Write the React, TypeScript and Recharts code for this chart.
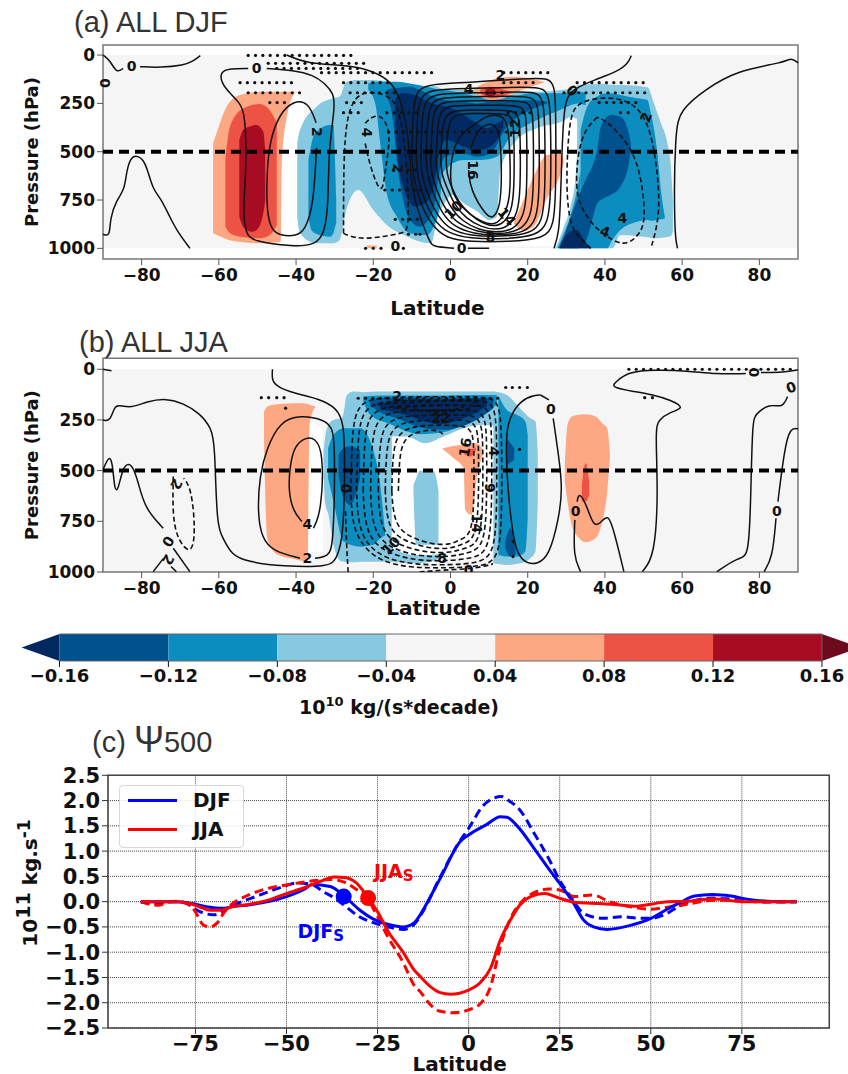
import { ComposedChart, Area, Line, Scatter, XAxis, YAxis, CartesianGrid, ReferenceArea, ReferenceLine, Legend } from 'recharts'

const NAVY = '#012a63'
const DARK = '#00528f'
const MEDIUM = '#0c8dc0'
const LIGHT = '#86c9e0'
const NEUTRAL = '#f5f5f5'
const WHITE = '#ffffff'
const SALMON = '#fda882'
const RED = '#ee5245'
const DARKRED = '#a70c22'
const FONT = '"DejaVu Sans", sans-serif'

type Row = number[]

// filled bands: [latitude, upper pressure, lower pressure]
const whiteA1: Row[] = [[-45, 190, 975], [-41, 190, 975], [-38, 250, 975]]
const whiteA2: Row[] = [[-6, 300, 988], [10, 300, 988], [29, 300, 988], [33, 350, 800]]
const salmonA1: Row[] = [[-61.5, 457, 922], [-60.6, 405, 930], [-58, 267, 953], [-54.5, 207, 967], [-49.4, 190, 974], [-44.2, 190, 967], [-43.9, 190, 960], [-43.7, 190, 570], [-42.4, 190, 320], [-40.3, 190, 195]]
const redA1: Row[] = [[-58.3, 540, 888], [-57.1, 370, 922], [-53.7, 276, 943], [-49.4, 253, 948], [-46.8, 285, 931], [-45, 350, 880]]
const darkredA1: Row[] = [[-54.7, 440, 836], [-53.7, 388, 888], [-51.5, 367, 914], [-50.2, 362, 905], [-48.5, 396, 820], [-48, 490, 750]]
const lightA1: Row[] = [[-39.7, 457, 836], [-39, 388, 922], [-34.7, 267, 974], [-30.4, 224, 974], [-28.7, 215, 957], [-27, 138, 802], [-23.9, 129, 698], [-20, 129, 802], [-16, 138, 888], [-12, 155, 931], [-8, 164, 965], [-5, 155, 974], [-3.5, 164, 854], [-1, 181, 750], [0.5, 181, 724], [3.4, 181, 767], [7, 190, 810], [10, 190, 853], [12, 190, 836], [12.9, 190, 595], [17.2, 190, 440], [22.4, 190, 379], [29.3, 180, 340], [31, 175, 320], [32.8, 170, 330]]
const lightA2: Row[] = [[27.2, 1000, 1000], [29.4, 888, 1000], [31.1, 784, 1000], [32.4, 629, 1000], [33, 400, 1000]]
const lightA3: Row[] = [[32.8, 155, 1000], [39.8, 150, 1000], [41.9, 155, 1000], [44, 155, 931], [51, 167, 943], [52.7, 250, 948], [54.5, 353, 945], [56.2, 457, 941], [57, 560, 938], [57.6, 750, 914]]
const mediumA1: Row[] = [[-36.8, 543, 836], [-36, 457, 905], [-35.1, 405, 922], [-31.2, 362, 940], [-30.3, 362, 922], [-30.1, 440, 905], [-29.6, 750, 870]]
const mediumA2: Row[] = [[-21.3, 147, 181], [-19.5, 138, 250], [-18.2, 138, 457], [-16.5, 138, 715], [-13.9, 138, 836], [-10.5, 147, 922], [-6.1, 164, 931], [-4.4, 172, 888], [-2.7, 181, 767], [-2.2, 181, 612], [3.4, 198, 543], [7.7, 216, 543], [12, 216, 526], [15.5, 216, 422], [20.7, 198, 353], [28.4, 198, 284], [33, 190, 250], [35, 195, 260]]
const mediumA3: Row[] = [[27.7, 1000, 1000], [29.4, 922, 1000], [31, 836, 1000], [32.4, 733, 1000], [33.7, 600, 1000]]
const mediumA4: Row[] = [[33.7, 388, 1000], [35.4, 267, 1000], [38, 215, 1000], [40.6, 198, 1000], [41.9, 198, 957], [44, 207, 905], [48.4, 224, 862], [51, 233, 853], [51.9, 302, 857], [53.6, 509, 853], [54.6, 715, 850], [55.5, 834, 845]]
const darkA1: Row[] = [[-16.5, 181, 216], [-14.8, 172, 353], [-13.9, 172, 543], [-12.6, 167, 715], [-10.5, 164, 853], [-7.9, 181, 888], [-4.4, 216, 802], [-3.1, 224, 629], [-1.4, 233, 526], [3.4, 241, 509], [6.8, 250, 526], [10.3, 241, 509], [14.6, 241, 371], [20.7, 233, 284], [25, 241, 250]]
const darkA2: Row[] = [[28.5, 991, 1000], [30.3, 888, 1000], [32.8, 750, 1000], [35.4, 629, 948], [36.7, 578, 853], [38, 491, 767], [38.9, 371, 750], [41.5, 310, 724], [44, 319, 681], [46.2, 405, 560], [46.7, 457, 491]]
const navyA1: Row[] = [[-14.3, 233, 353], [-13.5, 207, 560], [-12.2, 198, 681], [-9.2, 207, 784], [-6.6, 233, 767], [-4.4, 250, 681], [-3.1, 259, 526], [-1, 267, 440], [3.4, 310, 474], [6.8, 353, 491], [9.4, 379, 483], [12, 353, 440], [13.7, 336, 371]]
const navyA2: Row[] = [[28.1, 1000, 1000], [30.3, 922, 1000], [32.8, 905, 1000], [34.6, 957, 1000], [36.3, 1000, 1000]]
const salmonA2: Row[] = [[5.5, 185, 185], [7.7, 155, 216], [10.3, 133, 233], [12.9, 116, 229], [15.5, 112, 207], [20.7, 121, 164], [24.1, 138, 143]]
const redA2: Row[] = [[7.7, 178, 198], [10.3, 164, 224], [13.7, 178, 212], [15.9, 190, 195]]
const darkredA2: Row[] = [[9, 181, 205], [10.3, 172, 212], [11.6, 181, 205]]
const salmonA3: Row[] = [[16.3, 871, 871], [18.9, 750, 908], [21.5, 629, 888], [25, 517, 740], [28.4, 509, 620], [29.3, 543, 560]]
const salmonA4: Row[] = [[-21.7, 985, 1000], [-19.1, 985, 1000]]

const whiteB1: Row[] = [[-38, 220, 900], [-33, 300, 900]]
const whiteB2: Row[] = [[-15.5, 200, 880], [-12, 200, 920], [5, 150, 930], [11.5, 150, 900]]
const salmonB1: Row[] = [[-48.3, 210, 350], [-47.5, 185, 830], [-46.5, 178, 880], [-44.4, 172, 918], [-40, 168, 938], [-37, 170, 949], [-36.5, 175, 270], [-35, 184, 186]]
const salmonB2: Row[] = [[29.6, 472, 554], [30.3, 275, 652], [31.5, 233, 776], [33.3, 225, 833], [35, 222, 853], [37.6, 233, 833], [39.3, 266, 751], [40.6, 291, 603], [41.3, 422, 430]]
const redB1: Row[] = [[34, 570, 652], [35, 464, 652], [35.9, 554, 620]]
const lightB1: Row[] = [[-32.9, 406, 505], [-32.5, 340, 653], [-31.6, 274, 718], [-30.3, 250, 866], [-28.2, 242, 948], [-27.7, 217, 948], [-26.9, 130, 952], [-25.2, 110, 952], [-22.6, 113, 949], [-18.2, 110, 949], [-15.2, 110, 949]]
const lightB2: Row[] = [[-15.2, 110, 330], [-11.3, 110, 332], [-6.6, 110, 365], [-1.8, 110, 332], [3.4, 110, 291], [8.6, 110, 274], [11.5, 110, 280]]
const lightB3: Row[] = [[-15.2, 883, 949], [-9.6, 916, 957], [-5.3, 916, 949], [-1.8, 908, 924]]
const lightB4: Row[] = [[11.1, 110, 957], [14.6, 127, 965], [18, 192, 957], [20.7, 242, 932], [22, 258, 899], [22.6, 406, 652]]
const lightB5: Row[] = [[-9.6, 570, 604], [-8.9, 538, 866], [-7.9, 501, 866], [-4.4, 501, 866], [-3.5, 554, 866], [-3.1, 603, 866]]
const mediumB1: Row[] = [[-31.7, 390, 538], [-30.3, 324, 653], [-27.7, 291, 850], [-23.4, 291, 875], [-20, 398, 866], [-18.2, 570, 833], [-16.9, 817, 820]]
const mediumB2: Row[] = [[-22.6, 135, 160], [-20.8, 132, 225], [-15.6, 130, 271], [-7.9, 130, 320], [-1, 130, 307], [6, 127, 242], [12, 127, 176]]
const mediumB3: Row[] = [[12.4, 130, 916], [14.6, 201, 924], [17.2, 225, 924], [19.4, 258, 899], [20, 324, 735]]
const darkB1: Row[] = [[-29, 423, 521], [-27.7, 390, 636], [-26, 381, 669], [-23.4, 398, 538]]
const darkB2: Row[] = [[-20.8, 151, 179], [-18.2, 143, 212], [-13.9, 140, 242], [-7, 140, 291], [-1.8, 140, 299], [6, 140, 258], [11.1, 140, 192]]
const darkB3: Row[] = [[14.6, 340, 472], [16.5, 390, 447]]
const darkB4: Row[] = [[14.2, 850, 883], [15.5, 784, 924], [16.8, 866, 916]]
const navyB1: Row[] = [[-18.2, 172, 196], [-12.2, 151, 222], [-7, 151, 255], [-2.7, 151, 271], [3.4, 146, 242], [9.4, 146, 184]]
const salmonB3: Row[] = [[-2, 390, 395], [0.8, 377, 439], [3.4, 373, 488], [3.8, 373, 694], [5.5, 365, 718], [6.8, 365, 538], [8.6, 406, 409]]
const redB2: Row[] = [[3.4, 403, 414], [5.1, 393, 431], [6.6, 390, 398]]

const fillsA: [Row[], string][] = [
  [whiteA1, WHITE], [whiteA2, WHITE], [salmonA1, SALMON], [redA1, RED], [darkredA1, DARKRED],
  [lightA1, LIGHT], [lightA2, LIGHT], [lightA3, LIGHT], [mediumA1, MEDIUM], [mediumA2, MEDIUM], [mediumA3, MEDIUM], [mediumA4, MEDIUM],
  [darkA1, DARK], [darkA2, DARK], [navyA1, NAVY], [navyA2, NAVY],
  [salmonA2, SALMON], [redA2, RED], [darkredA2, DARKRED], [salmonA3, SALMON], [salmonA4, SALMON],
]
const fillsB: [Row[], string][] = [
  [whiteB1, WHITE], [whiteB2, WHITE], [salmonB1, SALMON], [salmonB2, SALMON], [redB1, RED],
  [lightB1, LIGHT], [lightB2, LIGHT], [lightB3, LIGHT], [lightB4, LIGHT], [lightB5, LIGHT],
  [mediumB1, MEDIUM], [mediumB2, MEDIUM], [mediumB3, MEDIUM], [darkB1, DARK], [darkB2, DARK], [darkB3, DARK], [darkB4, DARK], [navyB1, NAVY],
  [salmonB3, SALMON], [redB2, RED],
]

// contours: [latitude, pressure] in drawing order
const solidA: Row[][] = [
  [[-90, 0], [-88.2, 26], [-86.5, 95], [-84.8, 69]],
  [[-80.4, 60], [-75.1, 65], [-69, 52], [-66.8, 34], [-64.8, 3]],
  [[-67.5, 1000], [-71, 905], [-72.7, 836], [-75.3, 733], [-77, 698], [-78.7, 577], [-79.6, 543], [-80.9, 522], [-82.6, 522], [-83.9, 595], [-84.4, 698], [-86.5, 750], [-88.2, 845], [-88.2, 940], [-90, 927]],
  [[-52.4, 69], [-57.1, 69], [-59.7, 86], [-59.3, 147], [-57.1, 198], [-54.5, 250], [-53.2, 302], [-52.8, 577], [-53.7, 784], [-53.2, 922], [-51.1, 965], [-40.7, 991], [-35.1, 983], [-32.5, 922], [-31.6, 750], [-31.6, 491], [-29.9, 267], [-30.3, 198], [-32.5, 147], [-35.5, 103], [-40.7, 78], [-47.6, 69]],
  [[-34.8, 350], [-36.8, 241], [-40.7, 236], [-44.2, 302], [-46.8, 440], [-47.6, 612], [-47.6, 819], [-46.3, 905], [-44.2, 934], [-39.8, 936], [-37.7, 905], [-35.5, 784], [-34.7, 480]],
  [[-42.4, 0], [-37.3, 43], [-28.6, 52], [-21.7, 69], [-15.6, 129], [-13.1, 216], [-10.9, 405], [-10.5, 577], [-9.6, 750], [-5.3, 974], [-4.5, 990], [0.9, 1000]],
  [[4.5, 1000], [10, 1000]],
  [[46.8, 3], [46, 43], [43.2, 86], [37.2, 129], [32.8, 167], [30.3, 207], [29.4, 284], [28.9, 474], [28.5, 750], [28.1, 922], [26.8, 1000]],
  [[58.8, 1000], [57.9, 922], [58.1, 388], [59.6, 284], [65.7, 181], [74.3, 78], [86.4, 40], [88.2, 12], [90, 40]],
  [[-10, 500], [-9.7, 260], [-8.5, 175], [-5, 150], [4, 143], [20, 120], [25.5, 118], [27, 160], [27.3, 300], [27.3, 700], [26.8, 880], [24.5, 950], [15, 966], [5, 966], [-1, 950], [-5, 880], [-8, 760], [-9.8, 620], [-10, 500]],
  [[-8.9, 520], [-8.6, 280], [-7.3, 200], [-4, 178], [5, 172], [20, 165], [24.5, 170], [25.7, 230], [26, 400], [26, 720], [25.3, 870], [22.5, 935], [14, 952], [5, 950], [-1, 920], [-4.5, 850], [-7, 740], [-8.7, 620], [-8.9, 520]],
  [[-7.7, 530], [-7.4, 300], [-6.2, 222], [-3, 200], [5, 195], [19, 190], [23, 195], [24.2, 250], [24.5, 420], [24.5, 720], [23.8, 860], [21, 925], [13, 940], [5, 935], [0, 905], [-3.3, 835], [-5.8, 730], [-7.5, 620], [-7.7, 530]],
  [[-6.3, 530], [-6, 320], [-4.9, 240], [-2, 220], [5, 216], [17, 212], [21.7, 218], [22.8, 270], [23, 430], [23, 720], [22.3, 850], [19.5, 920], [12, 934], [6, 925], [1, 890], [-2.2, 820], [-4.4, 720], [-6.1, 620], [-6.3, 530]],
  [[-5.1, 540], [-4.8, 340], [-3.8, 260], [-1, 240], [5, 236], [16, 236], [20.3, 242], [21.3, 290], [21.5, 440], [21.5, 715], [20.8, 840], [18, 912], [12, 927], [7, 915], [2, 875], [-1.2, 805], [-3.4, 710], [-4.9, 620], [-5.1, 540]],
  [[-3.7, 540], [-3.4, 360], [-2.5, 285], [0, 262], [5, 259], [14, 259], [18.7, 265], [19.6, 310], [19.8, 450], [19.8, 710], [19.1, 830], [16.5, 905], [11.5, 919], [7.5, 905], [3, 860], [0, 790], [-2, 700], [-3.5, 620], [-3.7, 540]],
  [[-2.5, 545], [-2.2, 380], [-1.3, 310], [1, 288], [5, 284], [13, 284], [17, 290], [17.9, 335], [18.1, 460], [18.1, 700], [17.4, 820], [15, 890], [11.5, 905], [8, 890], [4, 845], [1, 775], [-0.8, 690], [-2.3, 620], [-2.5, 545]],
  [[-1.1, 550], [-0.9, 400], [0, 330], [2, 306], [5, 302], [12, 302], [15.5, 308], [16.3, 350], [16.5, 470], [16.5, 695], [15.8, 810], [13.8, 870], [11.3, 888], [8.3, 872], [5, 825], [2, 760], [0.2, 680], [-0.9, 620], [-1.1, 550]],
  [[0.3, 543], [1.2, 457], [3.4, 397], [6.8, 353], [9.4, 310], [13.7, 310], [15, 371], [15.5, 543], [15.5, 750], [13.7, 836], [11.6, 879], [8.6, 871], [3.4, 802], [0.3, 715], [-0.1, 612], [0.3, 543]],
  [[5.1, 491], [6.8, 388], [10.3, 345], [12.9, 379], [13.3, 629], [12.9, 784], [11.1, 845], [9.4, 836], [5.1, 698], [4.7, 595]],
]
const dashedA: Row[][] = [
  [[-27.7, 922], [-27.7, 543], [-26.9, 319], [-24.7, 216], [-21.7, 190], [-17.4, 198], [-14.3, 241], [-13.1, 319], [-11.8, 457], [-10.9, 715], [-10.9, 905], [-12.2, 922], [-22.6, 957], [-26.9, 931], [-27.7, 922]],
  [[-22.1, 353], [-20.4, 319], [-18.2, 310], [-16.5, 353], [-15.6, 440], [-16.9, 595], [-17.5, 698], [-18.7, 690], [-20.8, 577], [-22.1, 457]],
  [[36.3, 1000], [33.3, 940], [31.1, 888], [29.8, 698], [30.7, 319], [32.8, 250], [38, 219], [44, 224], [48.4, 267], [51, 353], [52.7, 474], [54, 681], [54, 853], [51.9, 1000]],
  [[38, 322], [34.6, 388], [32.8, 526], [32.4, 715], [34.6, 819], [38, 905], [42.4, 965], [45.8, 983], [49.3, 922], [50.6, 836], [49.3, 612], [46.6, 474], [42.4, 379], [39.8, 336], [38, 322]],
]
const solidB: Row[][] = [
  [[-90, 0], [-87.8, 7]],
  [[-90, 250], [-88.2, 258], [-87, 184], [-86.1, 176], [-82.6, 192], [-78.7, 159], [-73.6, 143], [-69.2, 168], [-64.9, 217], [-61.9, 291], [-61, 373], [-60.6, 768], [-58.9, 834], [-56.7, 916], [-52.8, 949], [-43.3, 973], [-31.2, 976], [-29.5, 932], [-27.7, 834], [-27.3, 439], [-27.7, 258], [-29.5, 192], [-33.8, 146], [-40.7, 118], [-45, 85], [-46.3, 53], [-46.1, 0]],
  [[-35.1, 932], [-31.6, 924], [-30.3, 866], [-29.9, 439], [-30.3, 291], [-32.5, 250], [-39, 225], [-44.2, 258], [-47.6, 390], [-49.4, 521], [-50, 702], [-48.9, 834], [-45.9, 899], [-39, 932]],
  [[-35.5, 784], [-33.4, 702], [-32.9, 406], [-35.1, 340], [-37.3, 335], [-40.3, 373], [-41.6, 472], [-42, 603], [-40.7, 702], [-38.5, 751]],
  [[-90, 496], [-88.2, 414], [-87.4, 488], [-87, 595], [-86.1, 603], [-84.8, 472], [-82.6, 459], [-80.9, 554], [-79.2, 686], [-74.4, 784]],
  [[-71.8, 883], [-67.5, 998]],
  [[-77, 998], [-74.4, 934]],
  [[-72.4, 973], [-71, 998]],
  [[23.3, 127], [22, 127], [18.2, 151], [15.1, 242], [14.3, 340], [14.7, 570], [16, 801], [17.3, 916], [19.9, 960], [22.5, 960], [25.5, 924], [28.1, 735], [29, 587], [28.1, 439], [26.6, 242]],
  [[25.5, 151], [23.3, 127]],
  [[32.8, 653], [33.3, 603], [35.4, 677], [37, 776], [38.9, 760], [40.8, 710], [42.4, 801], [44.9, 998]],
  [[32.2, 743], [31.8, 924], [33.7, 998]],
  [[49.7, 998], [52.9, 924], [53.8, 603], [53, 291], [54, 250], [56.6, 212], [60.9, 192], [57, 151], [52.7, 127], [47.5, 110], [41.5, 90], [42.8, 61], [46.2, 12], [52.7, 3], [61.4, 7], [68.7, 25], [76.5, 21]],
  [[80.4, 16], [86.4, 16], [90, 3]],
  [[69, 998], [74.8, 924], [77.3, 932], [77.8, 603], [78.2, 250], [79.1, 222], [82.5, 168], [86, 192], [87.3, 135]],
  [[81.2, 998], [83.4, 932], [84.3, 735]],
  [[84.8, 653], [86.5, 390], [88, 288], [90, 294]],
]
const dashedB: Row[][] = [
  [[-71.8, 529], [-72, 702], [-71, 834], [-67.1, 924], [-66, 801], [-67.1, 587], [-69.1, 538]],
  [[-26.5, 1000], [-26.9, 880], [-27.2, 700]],
  [[-25.8, 600], [-25.5, 250], [-23, 160], [-18, 137], [0, 135], [10, 135], [13, 170], [13.3, 400], [13.3, 800], [12, 940], [8, 973], [0, 980], [-10, 980], [-18, 950], [-23, 870], [-25.5, 760], [-25.8, 600]],
  [[-24.3, 600], [-24, 270], [-21.5, 180], [-16, 153], [0, 151], [9, 151], [11.8, 185], [12, 400], [12, 780], [10.7, 925], [6.5, 957], [0, 965], [-9, 965], [-17, 935], [-22, 860], [-24, 750], [-24.3, 600]],
  [[-22.6, 600], [-22.3, 290], [-20, 205], [-15, 178], [0, 176], [8, 176], [10.5, 205], [10.7, 400], [10.7, 760], [9.4, 905], [5.5, 932], [0, 945], [-8, 945], [-15.5, 915], [-20.5, 850], [-22.3, 740], [-22.6, 600]],
  [[-20.7, 600], [-20.4, 310], [-18, 228], [-13, 203], [0, 201], [6.5, 201], [9.2, 230], [9.4, 400], [9.4, 740], [8.2, 880], [4.5, 907], [0, 925], [-7, 925], [-14, 895], [-18.8, 835], [-20.4, 730], [-20.7, 600]],
  [[-18.7, 600], [-18.4, 330], [-16, 250], [-11, 228], [0, 225], [5.5, 225], [8.2, 255], [8.4, 410], [8.4, 720], [7.2, 860], [3.8, 883], [0, 905], [-6, 905], [-12.5, 875], [-17, 820], [-18.4, 720], [-18.7, 600]],
  [[-16.9, 600], [-16.6, 350], [-14.3, 275], [-9.5, 252], [0, 250], [4.5, 250], [7.1, 280], [7.3, 420], [7.3, 700], [6.2, 840], [3, 863], [0, 885], [-5, 885], [-11, 855], [-15.3, 805], [-16.6, 710], [-16.9, 600]],
  [[-15.2, 600], [-14.9, 370], [-12.6, 300], [-8, 277], [-2, 275], [3.5, 278], [5.9, 305], [6.1, 430], [6.1, 690], [5.2, 820], [2.2, 842], [0, 865], [-4.5, 865], [-9.5, 835], [-13.5, 790], [-14.9, 700], [-15.2, 600]],
  [[-13.5, 600], [-13.2, 390], [-11, 325], [-7, 300], [-3, 300], [-2, 320]],
  [[-19, 175], [-12, 165], [0, 155], [9, 160], [6, 190], [-1, 215], [-8, 205], [-15, 190]],
  [[-14, 190], [-6, 180], [5, 175], [2, 200], [-4, 205], [-10, 198]],
  [[-8, 1000], [-2, 990], [6, 985], [11, 960]],
]

type Tag = { lat: number; p: number; text: string; angle: number }
const labelsA: Tag[] = [
  { lat: -89.5, p: 145, text: '0', angle: 90 }, { lat: -82.6, p: 57, text: '0', angle: 0 }, { lat: -50.2, p: 65, text: '0', angle: 0 },
  { lat: -34.7, p: 397, text: '2', angle: 90 }, { lat: -21.7, p: 400, text: '4', angle: 90 }, { lat: -13.5, p: 586, text: '2', angle: 90 },
  { lat: -14.3, p: 988, text: '0', angle: 0 }, { lat: 4.7, p: 177, text: '4', angle: 0 }, { lat: 12.9, p: 103, text: '2', angle: 0 },
  { lat: 16.8, p: 379, text: '12', angle: -90 }, { lat: 5.8, p: 595, text: '16', angle: 90 }, { lat: 0.8, p: 800, text: '10', angle: -45 },
  { lat: 14.6, p: 836, text: '14', angle: 50 }, { lat: 10.3, p: 940, text: '8', angle: 0 }, { lat: 2.9, p: 1000, text: '0', angle: 0 },
  { lat: 31.5, p: 184, text: '0', angle: 45 }, { lat: 50.6, p: 322, text: '2', angle: -70 }, { lat: 40, p: 914, text: '4', angle: 20 }, { lat: 44.5, p: 845, text: '4', angle: 0 },
]
const labelsB: Tag[] = [
  { lat: -71, p: 567, text: '2', angle: 120 }, { lat: -73.1, p: 850, text: '0', angle: 120 }, { lat: -73.1, p: 940, text: '2', angle: 120 },
  { lat: -37.1, p: 932, text: '2', angle: 0 }, { lat: -37.1, p: 764, text: '4', angle: 0 }, { lat: -27, p: 587, text: '0', angle: 90 },
  { lat: -13.8, p: 130, text: '2', angle: 0 }, { lat: -2.5, p: 240, text: '22', angle: 0 }, { lat: -15.4, p: 870, text: '10', angle: -45 },
  { lat: -2.2, p: 930, text: '8', angle: 0 }, { lat: 3.8, p: 385, text: '16', angle: -80 }, { lat: 11.2, p: 405, text: '4', angle: 90 },
  { lat: 10.2, p: 585, text: '6', angle: -90 }, { lat: 6.9, p: 760, text: '14', angle: 90 }, { lat: 4.7, p: 990, text: '0', angle: 0 },
  { lat: 26, p: 195, text: '0', angle: 0 }, { lat: 32.4, p: 697, text: '0', angle: 0 }, { lat: 78.6, p: 16, text: '0', angle: 90 },
  { lat: 88.2, p: 89, text: '0', angle: -20 }, { lat: 84.5, p: 697, text: '0', angle: 0 },
]

// stippling rows of the significance mask
const stippleA = [
  { p: 2, lats: [-52.4, -50.5, -48.6, -46.7, -44.8, -42.9, -41, -39.1, -37.2, -35.3, -33.4, -31.5, -29.6, -27.7, -25.8] },
  { p: 43, lats: [-47.2, -45.3, -43.4, -41.5, -39.6, -37.7, -35.8, -33.9, -32, -30.1, -28.2, -26.3, -24.4, -22.5] },
  { p: 69, lats: [-45, -43.1, -41.2, -39.3, -37.4, -35.5, -33.6, -31.7, -29.8, -27.9, -26, -24.1] },
  { p: 91, lats: [-33.4, -31.5, -29.6, -27.7, -25.8, -23.9, -22, -20.1, -18.2, -16.3, -14.4, -12.5, -10.6, -8.7, -6.8, -4.9, 13.8, 15.7, 17.6, 19.5, 21.4, 23.3, 25.2] },
  { p: 143, lats: [-54.5, -52.6, -50.7, -48.8, -46.9, -45, -43.1, -41.2, -27.7, -25.8, -23.9, -22, -20.1, -18.2, -16.3, 13.8, 15.7, 17.6, 19.5, 21.4, 32.8, 34.7, 36.6, 38.5, 40.4, 42.3, 44.2, 46.1, 48, 49.9] },
  { p: 195, lats: [-52.4, -50.5, -48.6, -46.7, -44.8, -42.9, -41, -39.1, -26, -24.1, -22.2, -20.3, -18.4, -16.5, -14.6, 9.5, 11.4, 13.3, 29.4, 31.3, 33.2, 35.1, 37, 38.9, 40.8, 42.7, 44.6, 46.5, 48.4, 50.3] },
  { p: 246, lats: [-46.8, -44.9, -43, -26.9, -25, -23.1, 38.5, 40.4, 42.3, 44.2, 46.1, 48] },
  { p: 298, lats: [-27.7, -25.8, -23.9, -16.5, -14.6, -12.7, -10.8, -8.9, 14.9, 16.8, 18.7, 20.6, 44, 46] },
  { p: 398, lats: [-16, -14.1, -12.2, -10.3, -8.4, -6.5, -4.6, -2.7, -0.8, 1.1, 3, 4.9, 6.8, 8.7, 10.6, 12.5, 14.4] },
  { p: 500, lats: [89.6] },
  { p: 595, lats: [-14.8, -12.9, -11, -9.1] },
  { p: 698, lats: [-17, -15.1, -13.2, -11.3, -9.4, -7.9] },
  { p: 850, lats: [-14.3, -12.4, -10.5, -8.6] },
  { p: 927, lats: [-10.9, -9, -7.9] },
  { p: 1000, lats: [-22, -20, -18, -12.2] },
]
const stippleB = [
  { p: 0, lats: [46.2, 48.1, 50, 51.9, 53.8, 55.7, 57.6, 59.5, 61.4, 63.3, 65.2, 67.1, 69, 70.9, 72.8, 74.7, 76.6, 78.5, 80.4, 82.3, 84.2, 86.1, 88] },
  { p: 90, lats: [14.3, 16, 17.9, 19.9] },
  { p: 140, lats: [-49, -47.1, -45, -43.1, 50.3, 52.3] },
  { p: 143, lats: [-23.9, -22, -20.1, -18.2, -16.3, -14.4, -12.5, -10.6, -8.7, -6.8, -4.9, -3, -1.1, 0.8, 2.7, 4.6, 6.5, 8.4, 10.3, 12.2] },
  { p: 192, lats: [-42.7] },
  { p: 395, lats: [17.9] },
  { p: 850, lats: [16.2] },
  { p: 924, lats: [16.2] },
]

const latTicks = [-80, -60, -40, -20, 0, 20, 40, 60, 80]
const pressureTicks = [0, 250, 500, 750, 1000]

// colour bar
const barLabels = ['−0.16', '−0.12', '−0.08', '−0.04', '0.04', '0.08', '0.12', '0.16']
const barColors = [DARK, MEDIUM, LIGHT, NEUTRAL, SALMON, RED, DARKRED]
const barIndex = [0, 1, 2, 3, 4, 5, 6, 7]
const tipLow: Row[] = [[-0.348, 0.5, 0.5], [0, 0, 1]]
const tipHigh: Row[] = [[7, 0, 1], [7.239, 0.34, 0.66]]

// panel c, psi at 500 hPa
const latDjfSolid = [-90, -85, -80, -75, -72, -70, -67, -65, -60, -55, -50, -45, -43, -38, -34, -30, -26, -22, -18, -15, -13.3, -12, -7.8, -2.3, 0, 5, 8.7, 10.5, 13.3, 18, 22.5, 25, 28.8, 31.5, 34.3, 38, 44.4, 50, 54.5, 58, 62, 67, 72, 76.5, 82, 90]
const djfSolid = [0, 0, 0, -0.05, -0.1, -0.12, -0.13, -0.1, -0.06, 0, 0.1, 0.25, 0.34, 0.3, 0.1, -0.16, -0.35, -0.45, -0.5, -0.42, -0.26, -0.1, 0.46, 1.19, 1.32, 1.53, 1.68, 1.67, 1.5, 1.05, 0.6, 0.36, -0.03, -0.36, -0.5, -0.55, -0.47, -0.33, -0.15, -0.02, 0.11, 0.14, 0.11, 0.05, 0.01, 0]
const latDjfDash = [-90, -87, -85, -82, -80, -77, -75, -73, -70, -68, -66, -63, -60, -57, -54, -50, -47, -43, -40, -37, -34, -30, -26, -22, -18, -15, -13, -8, -3, 0, 4, 7, 9, 11, 14, 18, 22, 25, 28, 31, 34, 37, 42, 47, 50, 54, 58, 62, 67, 72, 80, 90]
const djfDash = [0, -0.03, -0.04, 0, 0, -0.05, -0.15, -0.22, -0.26, -0.22, -0.12, -0.02, 0.06, 0.14, 0.22, 0.32, 0.37, 0.34, 0.2, 0.08, -0.08, -0.3, -0.42, -0.5, -0.55, -0.45, -0.25, 0.46, 1.13, 1.45, 1.9, 2.05, 2.08, 2, 1.82, 1.35, 0.85, 0.42, 0.1, -0.2, -0.3, -0.33, -0.3, -0.33, -0.33, -0.25, -0.08, 0.02, 0.07, 0.05, 0, 0]
const latJjaSolid = [-90, -85, -80, -77, -74, -71, -68, -65, -60, -55, -50, -45, -40, -37, -34, -31, -28, -25, -22, -18, -15, -13.3, -10.5, -7.8, -5, 0, 3.2, 6, 8.7, 11.5, 14, 17, 20.8, 24.5, 29, 34, 39, 45.5, 50, 54.5, 60, 67.3, 75, 90]
const jjaSolid = [0, 0, 0, -0.03, -0.1, -0.17, -0.17, -0.1, -0.05, 0.03, 0.16, 0.28, 0.42, 0.49, 0.48, 0.38, 0.12, -0.2, -0.6, -1, -1.35, -1.48, -1.68, -1.8, -1.83, -1.75, -1.6, -1.32, -0.76, -0.36, -0.07, 0.1, 0.16, 0.08, -0.01, -0.03, -0.05, -0.09, -0.05, 0, 0.01, 0.05, 0, 0]
const latJjaDash = [-90, -87, -85, -82, -80, -77, -75, -73, -71, -69, -67, -65, -62, -58, -54, -50, -46, -42, -38, -34, -31, -28, -25, -22, -18, -15, -13.3, -10.5, -7.8, -4.3, 0, 3.2, 6, 8.7, 11.5, 15, 17.5, 22, 25, 29, 34, 39, 44.4, 50, 54.5, 60, 67.3, 75, 80.5, 90]
const jjaDash = [0, -0.06, -0.07, 0, 0.01, -0.05, -0.2, -0.45, -0.5, -0.42, -0.2, -0.05, 0.08, 0.2, 0.28, 0.33, 0.38, 0.42, 0.44, 0.38, 0.25, 0.08, -0.3, -0.72, -1.2, -1.65, -1.78, -2.04, -2.17, -2.2, -2.14, -2.02, -1.68, -0.89, -0.33, 0.03, 0.16, 0.25, 0.23, 0.1, 0.13, -0.01, -0.1, -0.15, -0.11, -0.05, 0.03, 0.02, -0.01, 0]

const psiTicksX = [-75, -50, -25, 0, 25, 50, 75]
const psiTicksY = [-2.5, -2, -1.5, -1, -0.5, 0, 0.5, 1, 1.5, 2, 2.5]
const legendItems = [{ name: 'DJF', color: '#0000ff' }, { name: 'JJA', color: '#ff0000' }]
const shiftDots = [{ lat: -34.3, psi: 0.1, color: '#0000ff' }, { lat: -27.6, psi: 0.07, color: '#ff0000' }]
const shiftTags = [
  { lat: -26, psi: 0.6, name: 'JJA', sub: 'S', color: '#ff0000' },
  { lat: -47, psi: -0.58, name: 'DJF', sub: 'S', color: '#0000ff' },
]

const toBand = (rows: Row[]) => rows.map(([lat, top, bottom]) => ({ lat, top, bottom }))
const toPath = (rows: Row[]) => rows.map(([lat, p]) => ({ lat, p }))
const toStipple = (rows: { p: number; lats: number[] }[]) => rows.flatMap((r) => r.lats.map((lat) => ({ lat, p: r.p })))
const toSeries = (lats: number[], vals: number[]) => lats.map((lat, i) => ({ lat, psi: vals[i] }))
const fmtMinus = (v: number) => String(v).replace('-', '−')
const fmtPsi = (v: number) => v.toFixed(1).replace('-', '−')

const ContourTag = ({ cx, cy, payload }: any) => (
  <text
    x={cx}
    y={cy}
    textAnchor="middle"
    dominantBaseline="central"
    transform={`rotate(${payload.angle} ${cx} ${cy})`}
    style={{ font: `bold 14px ${FONT}`, fill: '#111' }}
  >
    {payload.text}
  </text>
)
const StippleDot = ({ cx, cy }: any) => <circle cx={cx} cy={cy} r={1.6} fill="#111" />
const ShiftDot = ({ cx, cy, payload }: any) => <circle cx={cx} cy={cy} r={8} fill={payload.color} />
const ShiftTag = ({ cx, cy, payload }: any) => (
  <text x={cx} y={cy} dominantBaseline="central" style={{ font: `bold 19px ${FONT}`, fill: payload.color }}>
    {payload.name}
    <tspan dy={5} style={{ fontSize: 15 }}>{payload.sub}</tspan>
  </text>
)

const fillArea = ([rows, color]: [Row[], string], i: number) => (
  <Area
    key={`fill-${i}`}
    data={toBand(rows)}
    dataKey={(d: any) => [d.top, d.bottom]}
    type="monotone"
    fill={color}
    fillOpacity={1}
    stroke="none"
    dot={false}
    activeDot={false}
    isAnimationActive={false}
  />
)
const contourLine = (rows: Row[], name: string, dashed: boolean) => (
  <Line
    key={name}
    data={toPath(rows)}
    dataKey="p"
    type="basis"
    stroke="#111"
    strokeWidth={dashed ? 1.6 : 1.5}
    strokeDasharray={dashed ? '5 3' : undefined}
    dot={false}
    activeDot={false}
    isAnimationActive={false}
  />
)

const axisTick = { fontSize: 17, fontWeight: 'bold', fontFamily: FONT, fill: '#111' }
const axisName = { fontSize: 18, fontWeight: 'bold', fontFamily: FONT, fill: '#111' }
const xName = { fontSize: 20, fontWeight: 'bold', fontFamily: FONT, fill: '#111' }

const CrossSection = ({ height, marginTop, axisHeight, domain, fills, solid, dashed, labels, stipple, nameDx, nameOffset }: any) => (
  <ComposedChart width={848} height={height} margin={{ top: marginTop, right: 50, bottom: 0, left: 0 }}>
    <XAxis
      dataKey="lat"
      type="number"
      domain={[-90, 90]}
      ticks={latTicks}
      tickFormatter={fmtMinus}
      tick={axisTick}
      tickLine={{ stroke: '#555' }}
      tickMargin={4}
      axisLine={false}
      height={axisHeight}
      allowDuplicatedCategory={false}
      label={{ value: 'Latitude', position: 'insideBottom', offset: nameOffset, dx: nameDx, style: xName }}
    />
    <YAxis
      type="number"
      reversed
      domain={domain}
      ticks={pressureTicks}
      tick={axisTick}
      tickLine={{ stroke: '#555' }}
      axisLine={false}
      width={103}
      allowDataOverflow
      label={{ value: 'Pressure (hPa)', angle: -90, position: 'insideLeft', offset: 32, textAnchor: 'middle', style: axisName }}
    />
    <ReferenceArea x1={-90} x2={90} y1={0} y2={1000} fill={NEUTRAL} fillOpacity={1} stroke="none" />
    {fills.map(fillArea)}
    {solid.map((rows: Row[], i: number) => contourLine(rows, `solid-${i}`, false))}
    {dashed.map((rows: Row[], i: number) => contourLine(rows, `dashed-${i}`, true))}
    <Scatter data={toStipple(stipple)} dataKey="p" shape={StippleDot} isAnimationActive={false} />
    <Scatter data={labels} dataKey="p" shape={ContourTag} isAnimationActive={false} />
    <ReferenceLine y={500} stroke="#000" strokeWidth={4} strokeDasharray="10 6" />
    <ReferenceArea x1={-90} x2={90} y1={domain[0]} y2={domain[1]} fill="none" stroke="#777" strokeWidth={1.5} />
  </ComposedChart>
)

const ColorBar = () => (
  <ComposedChart width={848} height={70} margin={{ top: 9, right: 0, bottom: 0, left: 0 }}>
    <XAxis
      dataKey="lat"
      type="number"
      domain={[-0.546, 7.239]}
      ticks={barIndex}
      tickFormatter={(v: number) => barLabels[v]}
      tick={{ fontSize: 18, fontWeight: 'bold', fontFamily: FONT, fill: '#111' }}
      tickLine={{ stroke: '#111' }}
      axisLine={false}
      height={34}
      interval={0}
      allowDuplicatedCategory={false}
    />
    <YAxis type="number" domain={[0, 1]} hide />
    {fillArea([tipLow, '#03275f'], 100)}
    {barColors.map((color, i) =>
      fillArea([[[barIndex[i], 0, 1], [barIndex[i + 1], 0, 1]], color], i),
    )}
    {fillArea([tipHigh, '#6d0a1e'], 101)}
    <ReferenceArea x1={0} x2={7} y1={0} y2={1} fill="none" stroke="#666" strokeWidth={1} />
  </ComposedChart>
)

const PsiLegend = () => (
  <div style={{ width: 125, height: 63, border: '1px solid #d8d8d8', borderRadius: 4, background: 'rgba(255,255,255,0.85)', boxSizing: 'border-box', position: 'relative' }}>
    {legendItems.map((item, i) => (
      <div key={item.name} style={{ position: 'absolute', left: 8, top: 2 + i * 29, display: 'flex', alignItems: 'center', height: 24 }}>
        <span style={{ display: 'inline-block', width: 49, height: 3, background: item.color, marginRight: 16 }} />
        <span style={{ font: `bold 20px ${FONT}`, color: '#111' }}>{item.name}</span>
      </div>
    ))}
  </div>
)

const seriesLine = (data: any[], color: string, dashed: boolean, name: string) => (
  <Line
    key={name}
    data={data}
    dataKey="psi"
    type="monotone"
    stroke={color}
    strokeWidth={3}
    strokeDasharray={dashed ? '9 5' : undefined}
    dot={false}
    activeDot={false}
    isAnimationActive={false}
    legendType="none"
  />
)

const PsiChart = () => (
  <ComposedChart width={848} height={324} margin={{ top: 25.3, right: 18.7, bottom: 0, left: 0 }}>
    <CartesianGrid stroke="#444" strokeDasharray="1 1" />
    <XAxis
      dataKey="lat"
      type="number"
      domain={[-99, 99]}
      ticks={psiTicksX}
      tickFormatter={fmtMinus}
      tick={{ fontSize: 21, fontWeight: 'bold', fontFamily: FONT, fill: '#111' }}
      tickLine={{ stroke: '#333' }}
      axisLine={false}
      height={46}
      allowDuplicatedCategory={false}
      label={{ value: 'Latitude', position: 'insideBottom', offset: 3, dx: -9, style: xName }}
    />
    <YAxis
      type="number"
      domain={[-2.5, 2.5]}
      ticks={psiTicksY}
      tickFormatter={fmtPsi}
      tick={{ fontSize: 21, fontWeight: 'bold', fontFamily: FONT, fill: '#111' }}
      tickLine={{ stroke: '#333' }}
      axisLine={false}
      width={108}
      interval={0}
    />
    {seriesLine(toSeries(latDjfDash, djfDash), '#0000ff', true, 'djf-dash')}
    {seriesLine(toSeries(latJjaDash, jjaDash), '#ff0000', true, 'jja-dash')}
    {seriesLine(toSeries(latDjfSolid, djfSolid), '#0000ff', false, 'DJF')}
    {seriesLine(toSeries(latJjaSolid, jjaSolid), '#ff0000', false, 'JJA')}
    <Scatter data={shiftDots} dataKey="psi" shape={ShiftDot} isAnimationActive={false} legendType="none" />
    <Scatter data={shiftTags} dataKey="psi" shape={ShiftTag} isAnimationActive={false} legendType="none" />
    <ReferenceArea x1={-99} x2={99} y1={-2.5} y2={2.5} fill="none" stroke="#444" strokeWidth={1.5} />
    <Legend
      layout="horizontal"
      verticalAlign="middle"
      align="center"
      content={<PsiLegend />}
      wrapperStyle={{ left: 119, top: 35, width: 125, bottom: 'auto' }}
    />
  </ComposedChart>
)

const titleStyle = { position: 'absolute', fontFamily: '"Liberation Sans", sans-serif', color: '#333', whiteSpace: 'nowrap', lineHeight: 1 } as const

export default function App() {
  return (
    <div style={{ position: 'absolute', left: 0, top: 0, width: 848, height: 1074, background: '#fff', overflow: 'hidden' }}>
      <div style={{ position: 'absolute', left: 0, top: 0 }}>
        <CrossSection height={320} marginTop={45} axisHeight={61} domain={[-52, 1055]} fills={fillsA} solid={solidA} dashed={dashedA} labels={labelsA} stipple={stippleA} nameDx={-13} nameOffset={5} />
      </div>
      <div style={{ position: 'absolute', left: 0, top: 320 }}>
        <CrossSection height={300} marginTop={38.3} axisHeight={48} domain={[-54, 1000]} fills={fillsB} solid={solidB} dashed={dashedB} labels={labelsB} stipple={stippleB} nameDx={-17} nameOffset={5} />
      </div>
      <div style={{ position: 'absolute', left: 0, top: 625 }}>
        <ColorBar />
      </div>
      <div style={{ position: 'absolute', left: 0, top: 750 }}>
        <PsiChart />
      </div>

      <div style={{ ...titleStyle, left: 74, top: 8, fontSize: 29 }}>(a) ALL DJF</div>
      <div style={{ ...titleStyle, left: 79, top: 328, fontSize: 29 }}>(b) ALL JJA</div>
      <div style={{ ...titleStyle, left: 92, top: 722, fontSize: 29 }}>
        (c) <span style={{ fontSize: 36 }}>Ψ</span>500
      </div>
      <div style={{ position: 'absolute', left: 399, top: 706, transform: 'translate(-50%,-50%)', font: `bold 19px ${FONT}`, color: '#111', whiteSpace: 'nowrap' }}>
        10<sup style={{ fontSize: 13 }}>10</sup> kg/(s*decade)
      </div>
      <div style={{ position: 'absolute', left: 27, top: 883, transform: 'translate(-50%,-50%) rotate(-90deg)', font: `bold 20px ${FONT}`, color: '#111', whiteSpace: 'nowrap' }}>
        10<sup style={{ fontSize: 19 }}>11</sup> kg.s<sup style={{ fontSize: 17 }}>-1</sup>
      </div>
    </div>
  )
}
